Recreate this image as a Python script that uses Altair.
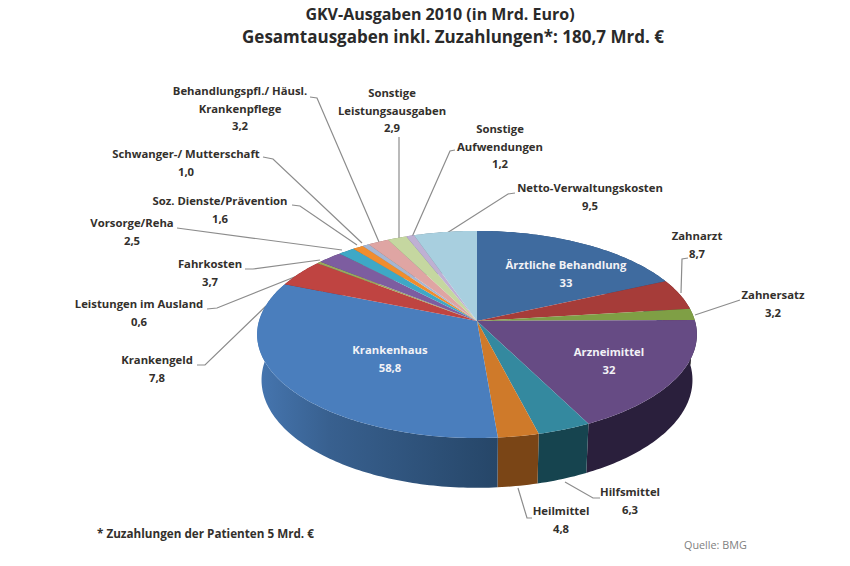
import math
import altair as alt
import pandas as pd

# ---- data ----
names = ["Ärztliche Behandlung", "Zahnarzt", "Zahnersatz", "Arzneimittel", "Hilfsmittel", "Heilmittel",
         "Krankenhaus", "Krankengeld", "Leistungen im Ausland", "Fahrkosten", "Vorsorge/Reha",
         "Soz. Dienste/Prävention", "Schwanger-/ Mutterschaft", "Behandlungspfl./ Häusl. Krankenpflege",
         "Sonstige Leistungsausgaben", "Sonstige Aufwendungen", "Netto-Verwaltungskosten"]
values = [33, 8.7, 3.2, 32, 6.3, 4.8, 58.8, 7.8, 0.6, 3.7, 2.5, 1.6, 1.0, 3.2, 2.9, 1.2, 9.5]
top_colors = ["#3f6b9f", "#a63c39", "#7f9f45", "#664b84", "#34899f", "#cf7a2a", "#4a7ebd", "#bf4441",
              "#9aa85a", "#7d5da0", "#3ea8c6", "#f08d2e", "#a5b6d2", "#dfa5a3", "#c5d7a0", "#bfb0d3", "#a8cfdf"]
side_colors = ["#2b4a70", "#6e2826", "#55692e", "#2a1f3c", "#16444f", "#7a4516", "#2f5080", "#7f2d2b",
               "#66703c", "#543e6b", "#297085", "#a05e1e", "#6e798c", "#95706e", "#838f6a", "#7f758c", "#708a95"]

label_lines = ["Behandlungspfl./ Häusl.\nKrankenpflege\n3,2", "Schwanger-/ Mutterschaft\n1,0",
               "Soz. Dienste/Prävention\n1,6", "Vorsorge/Reha\n2,5", "Fahrkosten\n3,7",
               "Leistungen im Ausland\n0,6", "Krankengeld\n7,8", "Sonstige\nLeistungsausgaben\n2,9",
               "Sonstige\nAufwendungen\n1,2", "Netto-Verwaltungskosten\n9,5", "Zahnarzt\n8,7", "Zahnersatz\n3,2",
               "Hilfsmittel\n6,3", "Heilmittel\n4,8"]
label_x = [240, 186, 220, 132, 210, 139, 157, 392, 500, 590, 697, 773, 630, 561]
label_y = [86, 149, 196, 218, 259, 299, 355, 88, 124, 183, 231, 290, 487, 506]

inner_lines = ["Ärztliche Behandlung\n33", "Arzneimittel\n32", "Krankenhaus\n58,8"]
inner_x = [566, 609, 390]
inner_y = [260, 347, 345]

leaders = [
    [(310, 97), (317, 98), (379, 242)], [(263, 157), (273, 159), (362, 243)],
    [(292, 205), (300, 206), (357, 245)], [(177, 228), (342, 250)],
    [(245, 269), (253, 269), (320, 260)], [(207, 309), (217, 308), (307, 272)],
    [(197, 365), (205, 365), (266, 306)], [(399, 137), (399, 238)],
    [(455, 150), (450, 151), (412, 237)], [(515, 193), (508, 194), (447, 233)],
    [(688, 258), (682, 259), (681, 293)], [(740, 300), (695, 315)],
    [(600, 498), (593, 498), (565, 482)], [(532, 518), (527, 518), (518, 488)],
]

# ---- perspective disc ----
CX, CY, A, B, K = 477, 321, 218, 101.8, 0.13
D, A2, B2 = 45, 0.98 * 218, 106


def rim(theta, a, b, dy):
    u, v = math.sin(theta), -math.cos(theta)
    s = 1 / (1 - K * v)
    return CX + a * u * s, CY + dy + b * v * s


total = sum(values)
tops, sides = [], []
cum = 0.0
for i, (n, val) in enumerate(zip(names, values)):
    t0 = cum / total * 2 * math.pi
    cum += val
    t1 = cum / total * 2 * math.pi
    steps = max(4, int(val * 2))
    angs = [t0 + (t1 - t0) * j / steps for j in range(steps + 1)]
    pts = [(CX, CY)] + [rim(t, A, B, 0) for t in angs] + [(CX, CY)]
    for j, (x, y) in enumerate(pts):
        tops.append(dict(slice=i, o=j, x=x, y=y, c=top_colors[i]))
    sp = [rim(t, A, B, 0) for t in angs] + [rim(t, A2, B2, D) for t in reversed(angs)]
    sp.append(sp[0])
    for j, (x, y) in enumerate(sp):
        sides.append(dict(slice=i, o=j, x=x, y=y, c=side_colors[i]))

tops = pd.DataFrame(tops)
sides = pd.DataFrame(sides)

xs = alt.X("x:Q", scale=alt.Scale(domain=[8, 842], nice=False, zero=False), axis=None)
ys = alt.Y("y:Q", scale=alt.Scale(domain=[558, 8], nice=False, zero=False), axis=None)

side_layer = alt.Chart(sides[sides.slice != 6]).mark_line(filled=True, strokeWidth=0).encode(
    x=xs, y=ys, order="o:Q", detail="slice:N", color=alt.Color("c:N", scale=None))
kh_gradient = alt.Gradient(gradient="linear", x1=0, x2=1, y1=0, y2=0, stops=[
    alt.GradientStop(offset=0, color="#4676b0"), alt.GradientStop(offset=0.3, color="#38608f"),
    alt.GradientStop(offset=1, color="#264668")])
kh_side = alt.Chart(sides[sides.slice == 6]).mark_line(filled=True, strokeWidth=0, fill=kh_gradient).encode(
    x=xs, y=ys, order="o:Q")
top_layer = alt.Chart(tops).mark_line(filled=True, strokeWidth=0.3).encode(
    x=xs, y=ys, order="o:Q", detail="slice:N", color=alt.Color("c:N", scale=None))

leader_df = pd.DataFrame([dict(k=i, o=j, x=p[0], y=p[1]) for i, l in enumerate(leaders) for j, p in enumerate(l)])
leader_layer = alt.Chart(leader_df).mark_line(color="#8c8c8c", strokeWidth=1.2).encode(
    x=xs, y=ys, order="o:Q", detail="k:N")

FONT = "Open Sans"
lab = alt.Chart(pd.DataFrame(dict(x=label_x, y=label_y, t=label_lines))).mark_text(
    font=FONT, fontSize=11.3, fontWeight="bold", color="#33302c", lineBreak="\n", lineHeight=17.5,
    align="center", baseline="top").encode(x=xs, y=ys, text="t:N")
inner = alt.Chart(pd.DataFrame(dict(x=inner_x, y=inner_y, t=inner_lines))).mark_text(
    font=FONT, fontSize=11.3, fontWeight="bold", color="#f2f2f6", lineBreak="\n", lineHeight=17.5,
    align="center", baseline="top").encode(x=xs, y=ys, text="t:N")
title1 = alt.Chart(pd.DataFrame(dict(x=[440], y=[15], t=["GKV-Ausgaben 2010 (in Mrd. Euro)"]))).mark_text(
    font=FONT, fontSize=16, fontWeight="bold", color="#2a2a2a", align="center", baseline="middle").encode(
    x=xs, y=ys, text="t:N")
title2 = alt.Chart(pd.DataFrame(dict(x=[453], y=[38], t=["Gesamtausgaben inkl. Zuzahlungen*: 180,7 Mrd. €"]))).mark_text(
    font=FONT, fontSize=17, fontWeight="bold", color="#2a2a2a", align="center", baseline="middle").encode(
    x=xs, y=ys, text="t:N")
foot = alt.Chart(pd.DataFrame(dict(x=[97], y=[534], t=["* Zuzahlungen der Patienten 5 Mrd. €"]))).mark_text(
    font=FONT, fontSize=11.7, fontWeight="bold", color="#33302c", align="left", baseline="middle").encode(
    x=xs, y=ys, text="t:N")
src = alt.Chart(pd.DataFrame(dict(x=[684], y=[546], t=["Quelle: BMG"]))).mark_text(
    font=FONT, fontSize=10.8, color="#7f7f7f", align="left", baseline="middle").encode(x=xs, y=ys, text="t:N")

chart = alt.layer(leader_layer, side_layer, kh_side, top_layer, lab, inner, title1, title2, foot, src).properties(
    width=834, height=550, padding=0, autosize=alt.AutoSizeParams(type="none"), background="white"
).configure_view(stroke=None)

chart.save("out.html", embed_options={"renderer": "svg", "actions": False})
